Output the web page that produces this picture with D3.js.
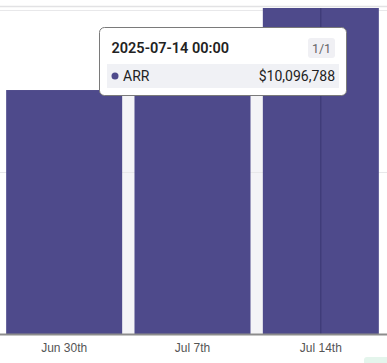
<!DOCTYPE html>
<meta charset="utf-8">
<style>
body { margin: 0; background: #fff; }
svg { display: block; font-family: Roboto, "Noto Sans", sans-serif; }
.tick text { font-size: 12px; fill: #555; }
</style>
<body>
<script src="https://cdn.jsdelivr.net/npm/d3@7"></script>
<script>
// data
const weeks = ["2025-06-30", "2025-07-07", "2025-07-14"];
const tickLabels = ["Jun 30th", "Jul 7th", "Jul 14th"];
const arr = [7530000, 8400000, 10096788];
const gridValues = [5000000, 10000000];
const hovered = 2;

const width = 387, height = 363;

const x = d3.scaleBand()
    .domain(weeks)
    .range([0, 385])
    .paddingInner(0.096)
    .paddingOuter(0.048);
const y = d3.scaleLinear()
    .domain([0, 10000000])
    .range([334, 10]);

const svg = d3.select("body").append("svg")
    .attr("width", width)
    .attr("height", height);

svg.append("defs").append("clipPath").attr("id", "plot")
  .append("rect").attr("x", 0).attr("y", 8).attr("width", width).attr("height", 330);

// faint background in the gaps between bars
svg.append("rect")
    .attr("x", x(weeks[0]) + x.bandwidth()).attr("y", 96)
    .attr("width", x(weeks[2]) - x(weeks[0]) - x.bandwidth())
    .attr("height", y(0) - 96)
    .attr("fill", "#f4f4f7");

// gridlines
svg.selectAll(".grid")
    .data(gridValues)
  .enter().append("line")
    .attr("x1", 0).attr("x2", width)
    .attr("y1", d => y(d) + 0.5).attr("y2", d => y(d) + 0.5)
    .attr("stroke", "#e8e8ea");

// bars
const g = svg.append("g").attr("clip-path", "url(#plot)");
g.selectAll(".bar")
    .data(arr)
  .enter().append("rect")
    .attr("x", (d, i) => x(weeks[i]))
    .attr("width", x.bandwidth())
    .attr("y", d => y(d))
    .attr("height", d => y(0) - y(d))
    .attr("fill", "#4e4a8b");

// hover crosshair
const cx = x(weeks[hovered]) + x.bandwidth() / 2;
g.append("line")
    .attr("x1", cx).attr("x2", cx)
    .attr("y1", 0).attr("y2", y(0))
    .attr("stroke", "#3a3770").attr("stroke-width", 1);

// top border
svg.append("line")
    .attr("x1", 0).attr("x2", width).attr("y1", 6.5).attr("y2", 6.5)
    .attr("stroke", "#e2e2e4").attr("stroke-width", 1.5);

// x axis
const xAxis = svg.append("g")
    .attr("transform", "translate(0," + y(0) + ")")
    .call(d3.axisBottom(x).tickSize(0).tickPadding(10)
        .tickFormat((d, i) => tickLabels[i]));
xAxis.select(".domain").remove();
xAxis.selectAll("text").attr("dy", "0.71em").attr("y", 9);
svg.append("line")
    .attr("x1", 0).attr("x2", width).attr("y1", y(0) + 0.5).attr("y2", y(0) + 0.5)
    .attr("stroke", "#8c8c8c").attr("stroke-width", 2);

// little badge peeking in at bottom right
svg.append("rect")
    .attr("x", 364).attr("y", 357).attr("width", 30).attr("height", 14).attr("rx", 3)
    .attr("fill", "#e4f5ec");

// tooltip
const tip = svg.append("g").attr("transform", "translate(99.5,27.5)");
tip.append("rect")
    .attr("width", 247).attr("height", 68).attr("rx", 5)
    .attr("fill", "#fff").attr("stroke", "#7a7a7a");
tip.append("text")
    .attr("x", 12).attr("y", 25.5)
    .attr("font-size", 14.5).attr("font-weight", 600).attr("fill", "#222")
    .text(weeks[hovered] + " 00:00");
tip.append("rect")
    .attr("x", 208.5).attr("y", 10.5).attr("width", 27).attr("height", 20).attr("rx", 3)
    .attr("fill", "#f0f0f4");
tip.append("text")
    .attr("x", 222).attr("y", 25).attr("text-anchor", "middle")
    .attr("font-size", 12.5).attr("fill", "#666")
    .text("1/1");
tip.append("rect")
    .attr("x", 7.5).attr("y", 36.5).attr("width", 232).attr("height", 24)
    .attr("fill", "#f0f1f5");
tip.append("circle")
    .attr("cx", 15.5).attr("cy", 48.5).attr("r", 3.5)
    .attr("fill", "#4e4a8b");
tip.append("text")
    .attr("x", 23.5).attr("y", 53.5)
    .attr("font-size", 14).attr("fill", "#222")
    .text("ARR");
tip.append("text")
    .attr("x", 235.5).attr("y", 53.5).attr("text-anchor", "end")
    .attr("font-size", 14).attr("fill", "#222")
    .text(d3.format("$,")(arr[hovered]));
</script>
</body>
